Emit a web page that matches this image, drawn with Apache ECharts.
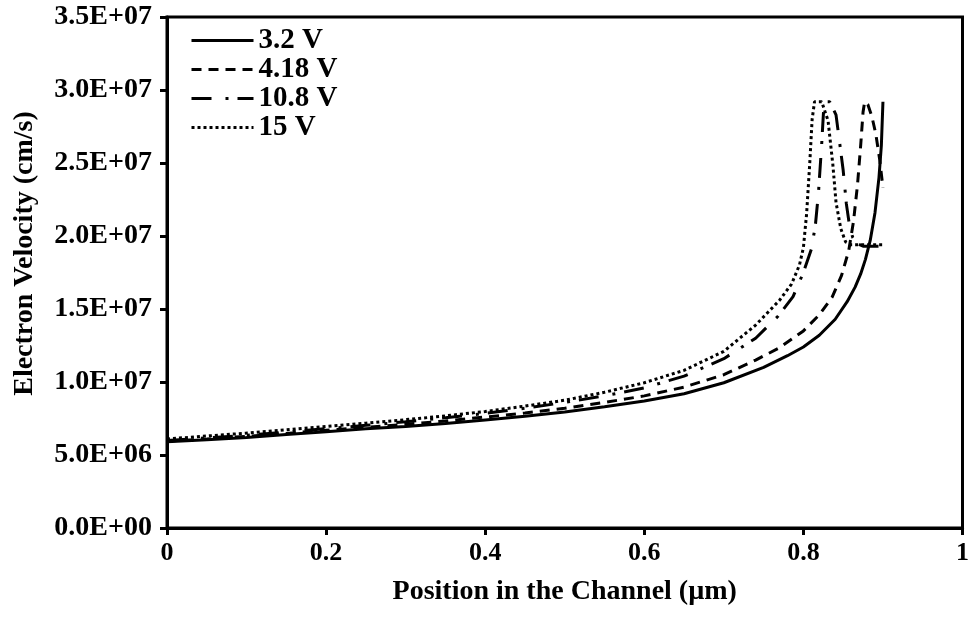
<!DOCTYPE html>
<html>
<head>
<meta charset="utf-8">
<script src="https://cdn.jsdelivr.net/npm/echarts@6/dist/echarts.min.js"></script>
<style>html,body{margin:0;padding:0;background:#fff;}#c{width:972px;height:618px;}</style>
</head>
<body>
<div id="c"></div>
<script>
// Series names
const seriesNames = ['3.2 V', '4.18 V', '10.8 V', '15 V'];

// 3.2 V (solid)
const x32 = [0, 0.05, 0.1, 0.15, 0.2, 0.25, 0.3, 0.35, 0.4, 0.45, 0.5, 0.55, 0.6, 0.65, 0.7, 0.75, 0.78, 0.8, 0.82, 0.84, 0.855, 0.865, 0.872, 0.878, 0.884, 0.89, 0.895, 0.898, 0.9];
const v32 = [5.9e6, 6.05e6, 6.2e6, 6.4e6, 6.6e6, 6.8e6, 6.95e6, 7.15e6, 7.4e6, 7.65e6, 7.95e6, 8.3e6, 8.7e6, 9.2e6, 9.95e6, 1.1e7, 1.18e7, 1.24e7, 1.32e7, 1.43e7, 1.55e7, 1.65e7, 1.74e7, 1.84e7, 1.97e7, 2.16e7, 2.4e7, 2.62e7, 2.92e7];

// 4.18 V (dashed)
const x418 = [0, 0.05, 0.1, 0.15, 0.2, 0.25, 0.3, 0.35, 0.4, 0.45, 0.5, 0.55, 0.6, 0.65, 0.7, 0.74, 0.77, 0.8, 0.82, 0.836, 0.848, 0.857, 0.863, 0.868, 0.872, 0.875, 0.877, 0.881, 0.886, 0.891, 0.896, 0.9];
const v418 = [5.95e6, 6.1e6, 6.28e6, 6.48e6, 6.7e6, 6.9e6, 7.1e6, 7.33e6, 7.6e6, 7.88e6, 8.2e6, 8.6e6, 9.05e6, 9.65e6, 1.05e7, 1.15e7, 1.235e7, 1.35e7, 1.46e7, 1.58e7, 1.73e7, 1.9e7, 2.1e7, 2.35e7, 2.62e7, 2.85e7, 2.92e7, 2.9e7, 2.82e7, 2.7e7, 2.52e7, 2.33e7];

// 10.8 V (dash-dot)
const x108 = [0, 0.05, 0.1, 0.15, 0.2, 0.25, 0.3, 0.35, 0.4, 0.45, 0.5, 0.55, 0.6, 0.65, 0.7, 0.74, 0.768, 0.787, 0.8, 0.81, 0.815, 0.819, 0.823, 0.826, 0.833, 0.841, 0.846, 0.85, 0.854, 0.858, 0.862, 0.867, 0.875, 0.9];
const v108 = [6.0e6, 6.17e6, 6.35e6, 6.57e6, 6.8e6, 7.03e6, 7.28e6, 7.55e6, 7.85e6, 8.2e6, 8.6e6, 9.05e6, 9.6e6, 1.04e7, 1.16e7, 1.3e7, 1.45e7, 1.585e7, 1.75e7, 1.91e7, 2.07e7, 2.3e7, 2.63e7, 2.92e7, 2.92e7, 2.83e7, 2.62e7, 2.45e7, 2.22e7, 2.07e7, 1.99e7, 1.95e7, 1.93e7, 1.93e7];

// 15 V (dotted)
const x15 = [0, 0.05, 0.1, 0.15, 0.2, 0.25, 0.3, 0.35, 0.4, 0.45, 0.5, 0.55, 0.6, 0.65, 0.7, 0.74, 0.77, 0.785, 0.795, 0.8, 0.804, 0.808, 0.811, 0.814, 0.823, 0.831, 0.837, 0.841, 0.847, 0.853, 0.86, 0.9];
const v15 = [6.1e6, 6.3e6, 6.5e6, 6.72e6, 6.95e6, 7.18e6, 7.42e6, 7.68e6, 7.98e6, 8.35e6, 8.75e6, 9.3e6, 9.95e6, 1.08e7, 1.21e7, 1.39e7, 1.56e7, 1.67e7, 1.8e7, 1.92e7, 2.15e7, 2.5e7, 2.8e7, 2.92e7, 2.92e7, 2.79e7, 2.49e7, 2.23e7, 2.05e7, 1.96e7, 1.94e7, 1.94e7];

// Axis ticks
const xTicks = [0, 0.2, 0.4, 0.6, 0.8, 1];
const yTicks = [0, 5e6, 1e7, 1.5e7, 2e7, 2.5e7, 3e7, 3.5e7];

const FONT = '"Liberation Serif", "Times New Roman", serif';
function pairs(xs, vs) { return xs.map((x, i) => [x, vs[i]]); }
function sci(v) {
  if (v === 0) return '0.0E+00';
  const e = Math.floor(Math.log10(v) + 1e-9);
  const m = v / Math.pow(10, e);
  return m.toFixed(1) + 'E+' + String(e).padStart(2, '0');
}

const lineTypes = ['solid', [10, 7], [20, 14, 3, 9], [3, 3]];
const dataSets = [pairs(x32, v32), pairs(x418, v418), pairs(x108, v108), pairs(x15, v15)];

const chart = echarts.init(document.getElementById('c'), null, { renderer: 'canvas' });
chart.setOption({
  animation: false,
  backgroundColor: '#fff',
  grid: { left: 167, right: 6, top: 17, bottom: 90, show: true, borderColor: '#000', borderWidth: 3 },
  legend: {
    orient: 'vertical',
    left: 185,
    top: 21,
    itemWidth: 62,
    itemHeight: 14,
    itemGap: 0,
    data: seriesNames,
    lineStyle: { width: 3 },
    itemStyle: { opacity: 0, color: 'rgba(0,0,0,0)', borderWidth: 0 },
    textStyle: { fontFamily: FONT, fontWeight: 'bold', fontSize: 29, color: '#000' }
  },
  xAxis: {
    type: 'value', min: 0, max: 1, interval: 0.2,
    name: 'Position in the Channel (µm)', nameLocation: 'middle', nameGap: 50,
    nameTextStyle: { fontFamily: FONT, fontWeight: 'bold', fontSize: 28, color: '#000' },
    axisLine: { lineStyle: { color: '#000', width: 3 } },
    axisTick: { show: true, length: 7, lineStyle: { color: '#000', width: 3 } },
    axisLabel: { margin: 12, fontFamily: FONT, fontWeight: 'bold', fontSize: 26, color: '#000',
      formatter: v => String(+v.toFixed(1)) },
    splitLine: { show: false }
  },
  yAxis: {
    type: 'value', min: 0, max: 3.5e7, interval: 5e6,
    name: 'Electron Velocity (cm/s)', nameLocation: 'middle', nameGap: 128,
    nameTextStyle: { fontFamily: FONT, fontWeight: 'bold', fontSize: 28, color: '#000', padding: [0, 0, 0, 38] },
    axisLine: { lineStyle: { color: '#000', width: 3 } },
    axisTick: { show: true, length: 7, lineStyle: { color: '#000', width: 3 } },
    axisLabel: { margin: 15, fontFamily: FONT, fontWeight: 'bold', fontSize: 28, color: '#000', formatter: sci },
    splitLine: { show: false }
  },
  series: seriesNames.map((n, i) => ({
    name: n, type: 'line', data: dataSets[i], symbol: 'none', showSymbol: false,
    smooth: false,
    lineStyle: { color: '#000', width: 3, type: lineTypes[i] },
    itemStyle: { color: '#000' }
  }))
});
</script>
</body>
</html>
